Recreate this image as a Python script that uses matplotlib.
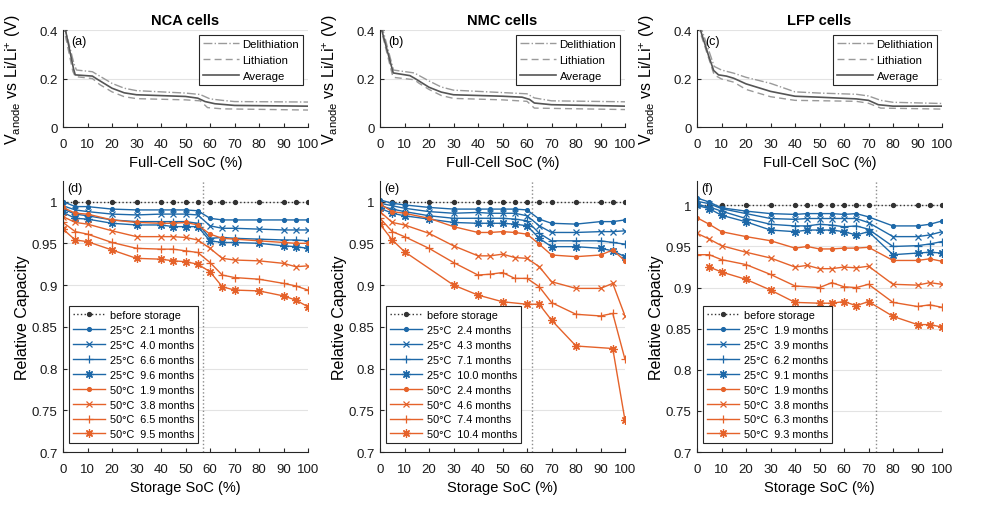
import numpy as np
import matplotlib.pyplot as plt
from matplotlib.ticker import FormatStrFormatter, MultipleLocator

plt.rcParams['font.family'] = ['Liberation Sans', 'DejaVu Sans']
plt.rcParams['mathtext.fontset'] = 'custom'
plt.rcParams['mathtext.rm'] = 'Liberation Sans'
plt.rcParams['mathtext.it'] = 'Liberation Sans:italic'

BLUE = '#1d68a8'
ORANGE = '#e5622a'
AXIS_GREY = '#262626'

# ---- top row: anode potential vs full-cell SoC ----
NCA_DELITH_SOC = [0, 1, 4.5, 5.5, 12, 15, 20, 25, 30, 50, 56, 60, 65, 70, 100]
NCA_DELITH = [0.42, 0.40, 0.26, 0.235, 0.228, 0.21, 0.18, 0.16, 0.15, 0.14, 0.134, 0.116, 0.11, 0.105, 0.103]
NCA_LITH_SOC = [0, 0.5, 4, 5, 12, 15, 20, 25, 30, 50, 56, 59, 65, 100]
NCA_LITH = [0.42, 0.40, 0.23, 0.208, 0.200, 0.175, 0.145, 0.125, 0.117, 0.112, 0.108, 0.080, 0.075, 0.070]
NCA_AVG_SOC = [0, 1, 4.3, 5, 12, 14, 20, 25, 30, 50, 55, 58, 62, 70, 100]
NCA_AVG = [0.42, 0.40, 0.24, 0.215, 0.210, 0.197, 0.160, 0.141, 0.133, 0.126, 0.119, 0.105, 0.096, 0.089, 0.086]

NMC_DELITH_SOC = [0, 1.2, 5.5, 14, 16, 20, 25, 30, 50, 60, 63, 70, 100]
NMC_DELITH = [0.42, 0.40, 0.235, 0.223, 0.212, 0.19, 0.165, 0.152, 0.142, 0.137, 0.12, 0.108, 0.104]
NMC_LITH_SOC = [0, 0.5, 5.3, 14, 16, 20, 25, 30, 50, 60, 63, 100]
NMC_LITH = [0.42, 0.40, 0.205, 0.195, 0.180, 0.155, 0.130, 0.118, 0.112, 0.106, 0.078, 0.072]
NMC_AVG_SOC = [0, 0.7, 5.4, 12.2, 14.3, 20, 25, 30, 50, 58, 61, 63, 70, 100]
NMC_AVG = [0.42, 0.40, 0.223, 0.212, 0.200, 0.164, 0.144, 0.133, 0.127, 0.123, 0.114, 0.099, 0.092, 0.086]

LFP_DELITH_SOC = [0, 2, 7, 10, 15, 20, 30, 40, 50, 65, 70, 75, 80, 100]
LFP_DELITH = [0.42, 0.40, 0.25, 0.235, 0.222, 0.205, 0.18, 0.145, 0.14, 0.135, 0.128, 0.11, 0.102, 0.097]
LFP_LITH_SOC = [0, 1, 7, 10, 15, 20, 30, 40, 65, 70, 75, 100]
LFP_LITH = [0.42, 0.40, 0.215, 0.198, 0.185, 0.155, 0.125, 0.11, 0.106, 0.098, 0.078, 0.074]
LFP_AVG_SOC = [0, 1.4, 4.7, 6.8, 8.8, 12, 15, 20, 30, 40, 50, 65, 70, 74, 80, 100]
LFP_AVG = [0.42, 0.40, 0.295, 0.233, 0.215, 0.21, 0.201, 0.178, 0.147, 0.127, 0.123, 0.116, 0.11, 0.092, 0.086, 0.086]

# ---- bottom row: relative capacity after storage ----
SOC = [0, 5, 10, 20, 30, 40, 45, 50, 55, 60, 65, 70, 80, 90, 95, 100]

NCA_MONTHS_25 = ["2.1", "4.0", "6.6", "9.6"]
NCA_MONTHS_50 = ["1.9", "3.8", "6.5", "9.5"]
NCA_CAP_25 = [
    [1.000, 0.994, 0.994, 0.991, 0.990, 0.990, 0.990, 0.990, 0.989, 0.980, 0.978, 0.978, 0.978, 0.978, 0.978, 0.978],
    [0.995, 0.990, 0.988, 0.985, 0.984, 0.985, 0.985, 0.985, 0.984, 0.971, 0.968, 0.968, 0.967, 0.966, 0.966, 0.966],
    [0.991, 0.985, 0.983, 0.978, 0.976, 0.976, 0.976, 0.976, 0.974, 0.956, 0.957, 0.956, 0.955, 0.954, 0.954, 0.953],
    [0.987, 0.980, 0.979, 0.974, 0.972, 0.972, 0.970, 0.970, 0.970, 0.953, 0.951, 0.951, 0.950, 0.947, 0.946, 0.944],
]
NCA_CAP_50 = [
    [0.993, 0.986, 0.985, 0.978, 0.975, 0.974, 0.974, 0.975, 0.972, 0.961, 0.956, 0.955, 0.953, 0.951, 0.950, 0.950],
    [0.982, 0.975, 0.973, 0.965, 0.958, 0.958, 0.958, 0.957, 0.954, 0.944, 0.932, 0.930, 0.929, 0.926, 0.922, 0.923],
    [0.975, 0.964, 0.961, 0.951, 0.944, 0.943, 0.943, 0.941, 0.939, 0.927, 0.912, 0.909, 0.907, 0.902, 0.899, 0.894],
    [0.967, 0.954, 0.952, 0.942, 0.932, 0.931, 0.929, 0.928, 0.925, 0.916, 0.898, 0.894, 0.893, 0.887, 0.882, 0.874],
]
NCA_SOC_50 = [SOC, SOC, SOC, SOC]
NCA_KNEE = 57.3

NMC_MONTHS_25 = ["2.4", "4.3", "7.1", "10.0"]
NMC_MONTHS_50 = ["2.4", "4.6", "7.4", "10.4"]
NMC_CAP_25 = [
    [1.002, 0.998, 0.996, 0.993, 0.991, 0.991, 0.991, 0.991, 0.991, 0.990, 0.979, 0.974, 0.973, 0.976, 0.976, 0.978],
    [0.998, 0.995, 0.992, 0.988, 0.986, 0.987, 0.986, 0.986, 0.986, 0.983, 0.971, 0.963, 0.963, 0.964, 0.964, 0.965],
    [0.995, 0.991, 0.988, 0.983, 0.980, 0.980, 0.980, 0.980, 0.979, 0.977, 0.962, 0.953, 0.953, 0.953, 0.951, 0.949],
    [0.992, 0.986, 0.983, 0.979, 0.975, 0.974, 0.974, 0.974, 0.973, 0.971, 0.956, 0.946, 0.946, 0.944, 0.941, 0.934],
]
NMC_CAP_50 = [
    [0.997, 0.988, 0.986, 0.980, 0.970, 0.963, 0.963, 0.964, 0.963, 0.961, 0.949, 0.936, 0.934, 0.936, 0.942, 0.929],
    [0.988, 0.975, 0.972, 0.962, 0.947, 0.935, 0.935, 0.937, 0.933, 0.932, 0.922, 0.904, 0.896, 0.896, 0.902, 0.863],
    [0.980, 0.964, 0.958, 0.944, 0.927, 0.912, 0.913, 0.915, 0.908, 0.908, 0.898, 0.879, 0.865, 0.863, 0.866, 0.811],
    [0.973, 0.954, 0.940, 0.900, 0.888, 0.880, 0.877, 0.877, 0.858, 0.827, 0.824, 0.738],
]
NMC_SOC_50 = [SOC, SOC, SOC, [0, 5, 10, 30, 40, 50, 60, 65, 70, 80, 95, 100]]
NMC_KNEE = 62.2

LFP_MONTHS_25 = ["1.9", "3.9", "6.2", "9.1"]
LFP_MONTHS_50 = ["1.9", "3.8", "6.3", "9.3"]
LFP_CAP_25 = [
    [1.009, 1.004, 0.997, 0.993, 0.990, 0.989, 0.990, 0.990, 0.990, 0.989, 0.990, 0.986, 0.975, 0.975, 0.977, 0.981],
    [1.005, 1.002, 0.996, 0.990, 0.984, 0.983, 0.984, 0.984, 0.984, 0.984, 0.984, 0.979, 0.962, 0.962, 0.964, 0.968],
    [1.001, 0.998, 0.993, 0.984, 0.977, 0.975, 0.975, 0.977, 0.976, 0.974, 0.975, 0.971, 0.950, 0.951, 0.953, 0.956],
    [1.000, 0.996, 0.988, 0.980, 0.970, 0.968, 0.970, 0.970, 0.970, 0.968, 0.964, 0.968, 0.940, 0.942, 0.943, 0.942],
]
LFP_CAP_50 = [
    [0.985, 0.977, 0.968, 0.962, 0.957, 0.948, 0.950, 0.947, 0.947, 0.948, 0.948, 0.949, 0.933, 0.933, 0.935, 0.932],
    [0.966, 0.959, 0.951, 0.943, 0.936, 0.925, 0.927, 0.923, 0.923, 0.925, 0.924, 0.926, 0.904, 0.903, 0.906, 0.904],
    [0.940, 0.940, 0.934, 0.928, 0.916, 0.902, 0.900, 0.906, 0.901, 0.900, 0.904, 0.882, 0.877, 0.879, 0.876],
    [0.925, 0.919, 0.910, 0.897, 0.882, 0.881, 0.881, 0.883, 0.878, 0.883, 0.865, 0.855, 0.855, 0.852],
]
LFP_SOC_50 = [SOC, SOC,
              [0, 5, 10, 20, 30, 40, 50, 55, 60, 65, 70, 80, 90, 95, 100],
              [5, 10, 20, 30, 40, 50, 55, 60, 65, 70, 80, 90, 95, 100]]
LFP_KNEE = 73.1

MARKERS = [dict(marker='o', ms=2.8), dict(marker='x', ms=4.5),
           dict(marker='+', ms=6), dict(marker=(8, 2, 0), ms=6)]


def style_axes(ax):
    for side in ('top', 'right'):
        ax.spines[side].set_visible(False)
    for side in ('left', 'bottom'):
        ax.spines[side].set_color(AXIS_GREY)
        ax.spines[side].set_linewidth(0.8)
    ax.tick_params(direction='in', length=3, width=0.8, color=AXIS_GREY,
                   labelsize=9.5, labelcolor='#1a1a1a')
    ax.tick_params(axis='x', pad=8)
    ax.tick_params(axis='y', pad=4)
    ax.xaxis.set_major_locator(MultipleLocator(10))
    ax.set_xlim(0, 100)
    ax.grid(axis='y', color='#e3e3e3', lw=0.8)
    ax.set_axisbelow(True)


def potential_panel(ax, curves, title, tag):
    style_axes(ax)
    (ds, d), (ls, l), (avs, av) = curves
    ax.plot(ds, d, color='#9a9a9a', ls='-.', lw=1.0, label='Delithiation')
    ax.plot(ls, l, color='#9a9a9a', ls=(0, (5, 3)), lw=1.0, label='Lithiation')
    ax.plot(avs, av, color='#555555', ls='-', lw=1.2, label='Average')
    ax.set_ylim(0, 0.4)
    ax.set_yticks([0, 0.2, 0.4])
    ax.yaxis.set_major_formatter(FormatStrFormatter('%g'))
    ax.set_title(title, fontsize=10.5, fontweight='bold', pad=4)
    ax.text(0.035, 0.95, tag, transform=ax.transAxes, va='top', fontsize=9)
    ax.set_xlabel('Full-Cell SoC (%)', fontsize=10.5)
    ax.xaxis.set_label_coords(0.5, -0.29)
    ax.set_ylabel(r'V$_{\mathrm{anode}}$ vs Li/Li$^{+}$ (V)', fontsize=11.5)
    ax.yaxis.set_label_coords(-0.165, 0.5)
    leg = ax.legend(loc='upper right', bbox_to_anchor=(0.98, 0.95), borderaxespad=0,
                    fontsize=8.2, handlelength=3.2, handletextpad=0.3,
                    labelspacing=0.55, borderpad=0.35, fancybox=False,
                    edgecolor=AXIS_GREY, framealpha=1)
    leg.get_frame().set_linewidth(0.8)


def capacity_panel(ax, cap25, cap50, soc50, months25, months50, knee, ytop, tag):
    style_axes(ax)
    ax.axvline(knee, color='#8c8c8c', ls=':', lw=1.0, zorder=1)
    ax.plot(SOC, np.ones(len(SOC)), color='#333333', ls=':', lw=1.0,
            marker='o', ms=2.8, label='before storage')
    for vals, mon, mk in zip(cap25, months25, MARKERS):
        ax.plot(SOC, vals, color=BLUE, lw=1.0, mew=0.9, label=f'25°C  {mon} months', **mk)
    for xs, vals, mon, mk in zip(soc50, cap50, months50, MARKERS):
        ax.plot(xs, vals, color=ORANGE, lw=1.0, mew=0.9, label=f'50°C  {mon} months', **mk)
    ax.set_ylim(0.7, ytop)
    ax.set_yticks([0.7, 0.75, 0.8, 0.85, 0.9, 0.95, 1.0])
    ax.yaxis.set_major_formatter(FormatStrFormatter('%g'))
    ax.text(0.018, 0.995, tag, transform=ax.transAxes, va='top', fontsize=9)
    ax.set_xlabel('Storage SoC (%)', fontsize=10.5)
    ax.xaxis.set_label_coords(0.5, -0.104)
    ax.set_ylabel('Relative Capacity', fontsize=11.5)
    ax.yaxis.set_label_coords(-0.135, 0.5)
    leg = ax.legend(loc='lower left', bbox_to_anchor=(0.024, 0.033), borderaxespad=0,
                    fontsize=7.8, handlelength=3.0, handletextpad=0.4,
                    labelspacing=0.45, borderpad=0.35, fancybox=False,
                    edgecolor=AXIS_GREY, framealpha=1)
    leg.get_frame().set_linewidth(0.8)


fig = plt.figure(figsize=(10, 5.06), dpi=100)
lefts = [0.063, 0.380, 0.697]
top_axes = [fig.add_axes([x, 0.747, 0.245, 0.1917]) for x in lefts]
bot_axes = [fig.add_axes([x, 0.1047, 0.245, 0.5362]) for x in lefts]

potential_panel(top_axes[0], [(NCA_DELITH_SOC, NCA_DELITH), (NCA_LITH_SOC, NCA_LITH),
                              (NCA_AVG_SOC, NCA_AVG)], 'NCA cells', '(a)')
potential_panel(top_axes[1], [(NMC_DELITH_SOC, NMC_DELITH), (NMC_LITH_SOC, NMC_LITH),
                              (NMC_AVG_SOC, NMC_AVG)], 'NMC cells', '(b)')
potential_panel(top_axes[2], [(LFP_DELITH_SOC, LFP_DELITH), (LFP_LITH_SOC, LFP_LITH),
                              (LFP_AVG_SOC, LFP_AVG)], 'LFP cells', '(c)')

capacity_panel(bot_axes[0], NCA_CAP_25, NCA_CAP_50, NCA_SOC_50,
               NCA_MONTHS_25, NCA_MONTHS_50, NCA_KNEE, 1.025, '(d)')
capacity_panel(bot_axes[1], NMC_CAP_25, NMC_CAP_50, NMC_SOC_50,
               NMC_MONTHS_25, NMC_MONTHS_50, NMC_KNEE, 1.025, '(e)')
capacity_panel(bot_axes[2], LFP_CAP_25, LFP_CAP_50, LFP_SOC_50,
               LFP_MONTHS_25, LFP_MONTHS_50, LFP_KNEE, 1.03, '(f)')

fig.savefig('out.png', dpi=100)
